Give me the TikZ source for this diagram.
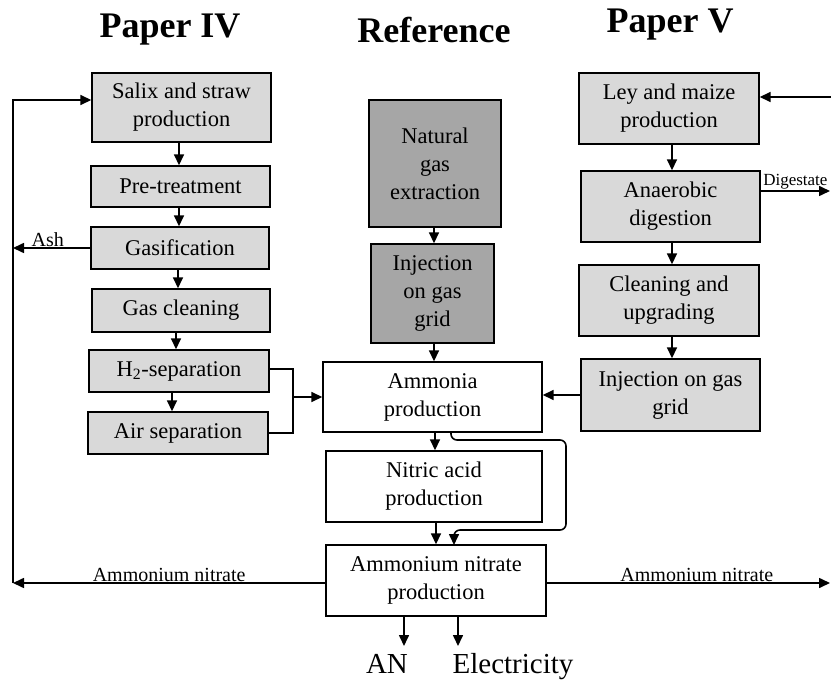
\documentclass[tikz,border=0pt]{standalone}
\usepackage{fontspec}
\setmainfont{Liberation Serif}
\usetikzlibrary{arrows.meta}
\definecolor{lgray}{HTML}{D9D9D9}
\definecolor{dgray}{HTML}{A6A6A6}
\begin{document}
\begin{tikzpicture}[x=1pt,y=-1pt,
  box/.style={draw, line width=1.4pt, inner sep=0pt, align=center,
    font=\fontsize{22.5}{28}\selectfont},
  lbox/.style={box, fill=lgray},
  dbox/.style={box, fill=dgray},
  wbox/.style={box, fill=white},
  arr/.style={line width=1.6pt, -{Triangle[length=11pt,width=10pt]}},
  ln/.style={line width=1.6pt},
  lab/.style={font=\fontsize{20}{22}\selectfont, inner sep=1pt},
  ttl/.style={font=\fontsize{36}{40}\selectfont\bfseries}]
\useasboundingbox (0,0) rectangle (831,682);
% titles
\node[ttl] (t1) at (170,30) {Paper IV};
\node[ttl] (t2) at (434,30) {Reference};
\node[ttl] (t3) at (670,25) {Paper V};
% left column
\node[lbox, minimum width=179pt, minimum height=69pt] (salix) at (181.5,107.5) {Salix and straw\\production};
\node[lbox, minimum width=179pt, minimum height=41pt] (pre) at (180.5,186.5) {Pre-treatment};
\node[lbox, minimum width=178pt, minimum height=42pt] (gasif) at (180,248) {Gasification};
\node[lbox, minimum width=178pt, minimum height=43pt] (gascl) at (181,310.5) {Gas cleaning};
\node[lbox, minimum width=180pt, minimum height=42pt] (h2) at (179,371) {H\textsubscript{2}-separation};
\node[lbox, minimum width=180pt, minimum height=42pt] (air) at (178,433) {Air separation};
% middle column
\node[dbox, minimum width=132pt, minimum height=127pt] (natgas) at (435,163.5) {Natural\\gas\\extraction};
\node[dbox, minimum width=123pt, minimum height=99pt] (injm) at (432.5,293.5) {Injection\\on gas\\grid};
\node[wbox, minimum width=219pt, minimum height=70pt] (ammonia) at (432.5,397) {Ammonia\\production};
\node[wbox, minimum width=216pt, minimum height=71pt] (nitric) at (434,486.5) {Nitric acid\\production};
\node[wbox, minimum width=220pt, minimum height=71pt] (an) at (436,580.5) {Ammonium nitrate\\production};
% right column
\node[lbox, minimum width=180pt, minimum height=71pt] (ley) at (669,108.5) {Ley and maize\\production};
\node[lbox, minimum width=179pt, minimum height=71pt] (anaer) at (670.5,206.5) {Anaerobic\\digestion};
\node[lbox, minimum width=180pt, minimum height=71pt] (clean) at (669,300.5) {Cleaning and\\upgrading};
\node[lbox, minimum width=179pt, minimum height=72pt] (injr) at (670.5,395) {Injection on gas\\grid};
% outputs
\node[font=\fontsize{29}{32}\selectfont, anchor=base] (ANt) at (387,673) {AN};
\node[font=\fontsize{29}{32}\selectfont, anchor=base] (El) at (513,673) {Electricity};
% coordinates
\coordinate (L) at (13,583);
\coordinate (Ltop) at (13,100);
\coordinate (B) at (293,397);
\coordinate (R1) at (831,97);
\coordinate (R2) at (830,191);
\coordinate (R3) at (830,583);
\coordinate (bp0) at (451,432);
\coordinate (bp1) at (451,440);
\coordinate (bp2) at (566,440);
\coordinate (bp3) at (566,530);
\coordinate (bp4) at (454,530);
\coordinate (bp5) at (454,545);
\coordinate (o1) at (404,616);
\coordinate (o1e) at (404,646);
\coordinate (o2) at (458,616);
\coordinate (o2e) at (458,646);
% left column arrows
\draw[arr] (salix.south -| 179,0) -- (pre.north -| 179,0);
\draw[arr] (pre.south -| 179,0) -- (gasif.north -| 179,0);
\draw[arr] (gasif.south -| 178,0) -- (gascl.north -| 178,0);
\draw[arr] (gascl.south -| 176,0) -- (h2.north -| 176,0);
\draw[arr] (h2.south -| 172,0) -- (air.north -| 172,0);
% ash
\draw[arr] (gasif.west) -- (gasif.west -| L) node[lab, pos=0.55, above] {Ash};
% loop
\draw[arr] (an.west |- L) -- (L) node[lab, pos=0.5, above] {Ammonium nitrate};
\draw[arr] (L) -- (Ltop) -- (salix.west |- Ltop);
% bracket
\draw[ln] (h2.east |- 0,369) -- (B |- 0,369) -- (B |- 0,433) -- (air.east |- 0,433);
\draw[arr] (B) -- (ammonia.west);
% middle arrows
\draw[arr] (natgas.south -| 434,0) -- (injm.north -| 434,0);
\draw[arr] (injm.south -| 434,0) -- (ammonia.north -| 434,0);
\draw[arr] (ammonia.south -| 435,0) -- (nitric.north -| 435,0);
\draw[arr] (nitric.south -| 436,0) -- (an.north -| 436,0);
\draw[arr, rounded corners=6pt] (bp0) -- (bp1) -- (bp2) -- (bp3) -- (bp4) -- (bp5);
\draw[arr] (o1) -- (o1e);
\draw[arr] (o2) -- (o2e);
% right column arrows
\draw[arr] (ley.south -| 672,0) -- (anaer.north -| 672,0);
\draw[arr] (anaer.south -| 672,0) -- (clean.north -| 672,0);
\draw[arr] (clean.south -| 672,0) -- (injr.north -| 672,0);
\draw[arr] (injr.west) -- (injr.west -| ammonia.east);
\draw[arr] (R1) -- (R1 -| ley.east);
\draw[arr] (anaer.east |- R2) -- (R2) node[lab, pos=0.5, above, font=\fontsize{17}{20}\selectfont] {Digestate};
\draw[arr] (an.east |- R3) -- (R3) node[lab, pos=0.53, above] {Ammonium nitrate};
\end{tikzpicture}
\end{document}
